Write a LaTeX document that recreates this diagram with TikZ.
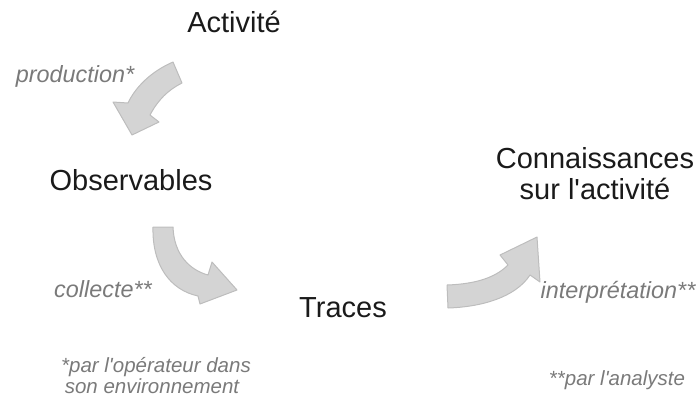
\documentclass[tikz,border=0pt]{standalone}
\usepackage{fontspec}
\setmainfont{Liberation Sans}[Ligatures=TeXOff]
\definecolor{maintxt}{HTML}{1A1A1A}
\definecolor{graytxt}{HTML}{7A7A7A}
\definecolor{arrfill}{HTML}{D4D4D4}
\definecolor{arrline}{HTML}{BDBDBD}
\begin{document}
\begin{tikzpicture}[x=1pt,y=-1pt,
  mainlabel/.style={anchor=base,inner sep=0pt,text=maintxt,font=\fontsize{29}{31}\selectfont,align=center},
  actlabel/.style={anchor=base,inner sep=0pt,text=graytxt,font=\fontsize{23.4}{27}\selectfont\itshape},
  notelabel/.style={anchor=base,inner sep=0pt,text=graytxt,font=\fontsize{20.5}{21}\selectfont\itshape,align=center},
  blockarrow/.style={fill=arrfill,draw=arrline,line width=1pt,line join=round}]
\useasboundingbox (0,0) rectangle (698,405);

\node[mainlabel] (act) at (234,32) {Activité};
\node[mainlabel] (obs) at (131,190) {Observables};
\node[mainlabel] (tra) at (343,317) {Traces};
\node[mainlabel] (con1) at (595,168) {Connaissances};
\node[mainlabel] (con2) at (595,199) {sur l'activité};

\node[actlabel] (prod) at (75,82) {production*};
\node[actlabel] (coll) at (103,297) {collecte**};
\node[actlabel] (interp) at (618,298) {interprétation**};

\node[notelabel] (note1a) at (156,372) {*par l'opérateur dans};
\node[notelabel] (note1b) at (152,393) {son environnement};
\node[notelabel] (note2) at (617,385) {**par l'analyste};

% production arrow
\draw[blockarrow] (173,62) .. controls (150,72) and (135,88) .. (128,103)
  -- (113,102) -- (132,135) -- (159,122) -- (150,115)
  .. controls (158,100) and (168,90) .. (182,83) -- cycle;
% collecte arrow
\draw[blockarrow] (153,227) .. controls (152,265) and (170,290) .. (198,296)
  -- (200,304) -- (237,290) -- (212,262) -- (208,275)
  .. controls (190,270) and (174,255) .. (173,227) -- cycle;
% interpretation arrow
\draw[blockarrow] (448,308) .. controls (480,307) and (515,298) .. (530,275)
  -- (540,282) -- (537,237) -- (500,255) -- (508,265)
  .. controls (495,278) and (475,284) .. (447,285) -- cycle;
\end{tikzpicture}
\end{document}
